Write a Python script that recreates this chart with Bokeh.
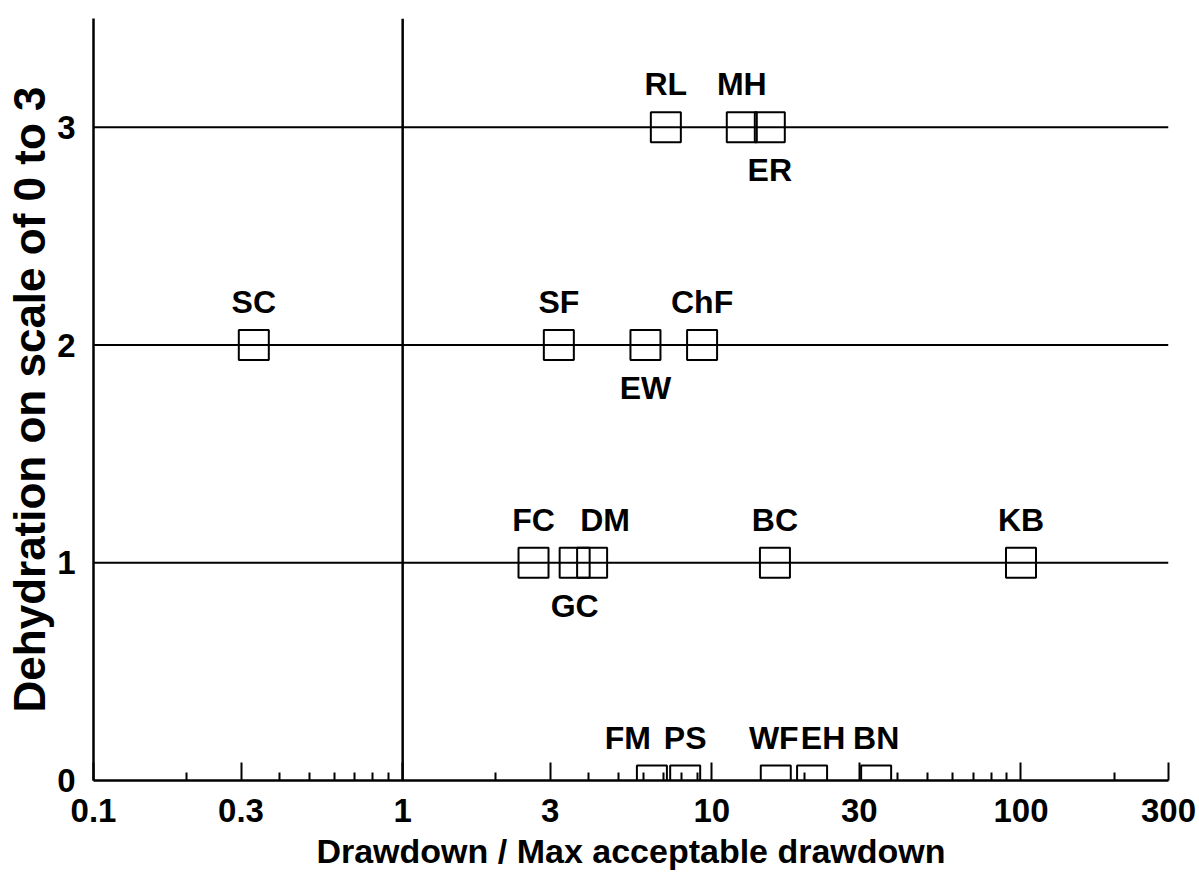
from bokeh.plotting import figure
from bokeh.models import Range1d, FixedTicker, ColumnDataSource
from bokeh.core.properties import value
from bokeh.embed import file_html
from bokeh.resources import INLINE

# ---- data ----
names = ["SC", "SF", "EW", "ChF", "RL", "MH", "ER", "FC", "GC", "DM", "BC", "KB",
         "FM", "PS", "WF", "EH", "BN"]
drawdown_ratio = [0.33, 3.2, 6.1, 9.3, 7.1, 12.5, 15.4, 2.65, 3.6, 4.1, 16.0, 100.0,
                  6.4, 8.2, 16.1, 21.1, 34.0]
dehydration = [2, 2, 2, 2, 3, 3, 3, 1, 1, 1, 1, 1, 0, 0, 0, 0, 0]
label_below = ["EW", "ER", "GC"]
levels = [1, 2, 3]
x_ticks = [0.1, 0.3, 1, 3, 10, 30, 100, 300]
x_tick_labels = ["0.1", "0.3", "1", "3", "10", "30", "100", "300"]
x_minor = [0.2, 0.4, 0.5, 0.6, 0.7, 0.8, 0.9, 2, 4, 5, 6, 7, 8, 9,
           20, 40, 50, 60, 70, 80, 90, 200]
y_ticks = [0, 1, 2, 3]
threshold = 1

# ---- layout helpers (label nudges, px) ----
label_dx = {"DM": 13, "FM": -24, "WF": -2, "EH": 11}

FONT = "Liberation Sans"

p = figure(width=1199, height=875, x_axis_type="log",
           x_range=Range1d(0.1, 300), y_range=Range1d(0, 3.5),
           output_backend="svg", toolbar_location=None,
           min_border_left=93, min_border_right=31,
           min_border_top=18, min_border_bottom=95)
p.outline_line_color = None
p.grid.visible = False
p.background_fill_color = "white"
p.border_fill_color = "white"

# horizontal level lines
p.segment(x0=[x_ticks[0]] * len(levels), x1=[x_ticks[-1]] * len(levels),
          y0=levels, y1=levels, line_color="black", line_width=2)
# threshold vertical line
p.segment(x0=[threshold], x1=[threshold], y0=[0], y1=[p.y_range.end],
          line_color="black", line_width=2.5)

# squares
src = ColumnDataSource(dict(
    x=drawdown_ratio, y=dehydration, name=names,
    dx=[label_dx.get(n, 0) for n in names],
    dy=[43 if n in label_below else -43 for n in names],
))
p.scatter(x="x", y="y", source=src, marker="square", size=30,
          fill_color=None, line_color="black", line_width=2)
p.text(x="x", y="y", text="name", source=src, x_offset="dx", y_offset="dy",
       text_font=value(FONT), text_font_style="bold", text_font_size="32px",
       text_align="center", text_baseline="middle", text_color="black")

# axes
xa = p.xaxis[0]
xa.ticker = FixedTicker(ticks=x_ticks, minor_ticks=x_minor)
xa.major_label_overrides = {t: l for t, l in zip(x_ticks, x_tick_labels)}
xa.axis_label = "Drawdown / Max acceptable drawdown"
xa.axis_line_width = 2.5
xa.major_tick_in = 18
xa.major_tick_out = 0
xa.minor_tick_in = 8
xa.minor_tick_out = 0
xa.major_tick_line_width = 2
xa.minor_tick_line_width = 2
xa.major_label_standoff = 18
xa.axis_label_standoff = 7

ya = p.yaxis[0]
ya.ticker = FixedTicker(ticks=y_ticks, minor_ticks=[])
ya.axis_label = "Dehydration on scale of 0 to 3"
ya.axis_line_width = 2.5
ya.major_tick_in = 0
ya.major_tick_out = 0
ya.minor_tick_in = 0
ya.minor_tick_out = 0
ya.major_label_standoff = 18
ya.axis_label_standoff = 0

for ax in (xa, ya):
    ax.major_label_text_font = FONT
    ax.major_label_text_font_style = "bold"
    ax.major_label_text_font_size = "33px"
    ax.major_label_text_color = "black"
    ax.axis_label_text_font = FONT
    ax.axis_label_text_font_style = "bold"
    ax.axis_label_text_color = "black"
xa.axis_label_text_font_size = "34px"
ya.axis_label_text_font_size = "44px"

open("out.html", "w").write(file_html(p, INLINE))
